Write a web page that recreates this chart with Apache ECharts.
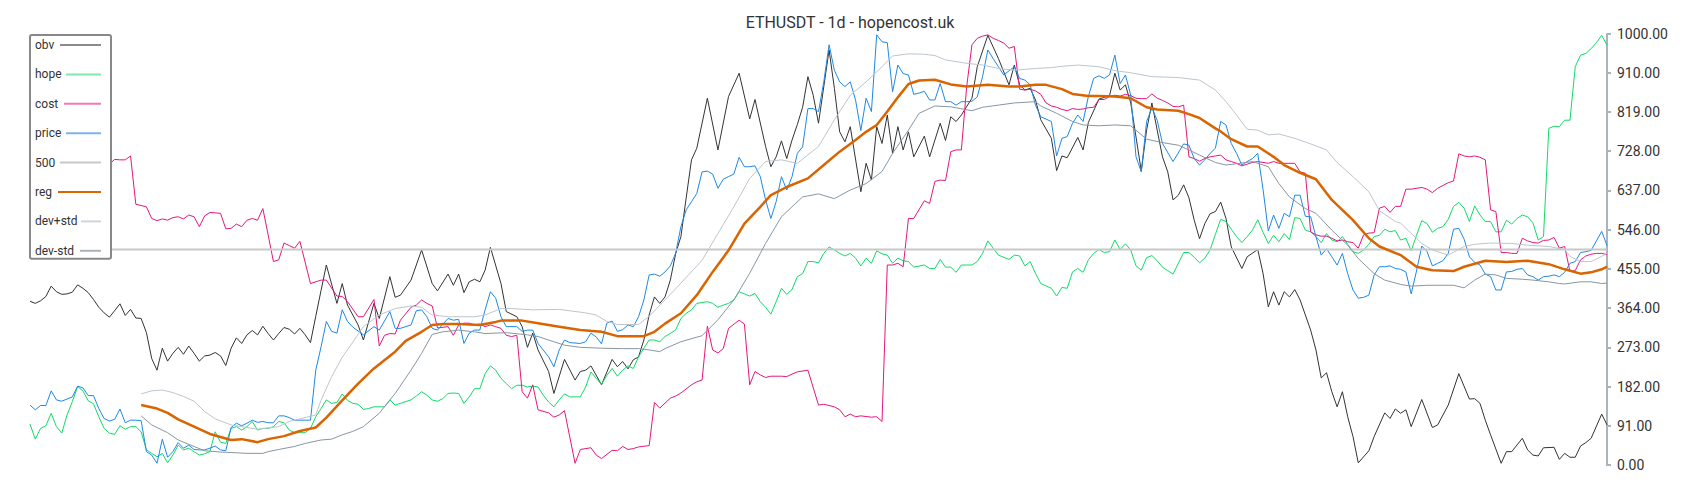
<!DOCTYPE html>
<html>
<head>
<meta charset="utf-8">
<script src="https://cdn.jsdelivr.net/npm/echarts@6/dist/echarts.min.js"></script>
<style>
html,body{margin:0;padding:0;background:#fff;}
#chart{width:1700px;height:500px;}
</style>
</head>
<body>
<div id="chart"></div>
<script>
// ---------- data (x = day index, y = value) ----------
const chartTitle = 'ETHUSDT - 1d - hopencost.uk';
const seriesNames = ['obv', 'hope', 'cost', 'price', '500', 'reg', 'dev+std', 'dev-std'];
const dayCount = 299;
const yMin = 0, yMax = 1000, yStep = 91;

const obv = [[0,380],[1,375],[2,381],[3,391],[4,415],[5,402],[6,396],[7,397],[8,401],[9,418],[10,410],[11,400],[12,384],[13,366],[14,353],[15,343],[16,358],[17,374],[18,347],[19,361],[20,341],[21,340],[22,307],[23,247],[24,220],[25,271],[26,241],[27,259],[28,273],[29,257],[30,276],[31,259],[32,241],[33,253],[34,255],[35,261],[36,253],[37,231],[38,271],[39,295],[40,282],[41,302],[42,312],[43,302],[44,322],[45,305],[46,290],[47,305],[48,319],[49,315],[50,304],[51,317],[52,302],[53,284],[54,345],[55,405],[56,464],[58,375],[59,421],[60,371],[62,325],[63,290],[65,375],[66,340],[68,437],[69,389],[70,394],[72,429],[74,499],[76,421],[77,404],[79,443],[80,417],[81,443],[82,400],[83,425],[84,431],[85,425],[86,452],[87,505],[89,421],[90,356],[92,344],[93,321],[94,273],[95,306],[96,267],[98,217],[99,166],[101,245],[103,197],[104,217],[105,220],[106,230],[108,186],[110,245],[111,228],[112,240],[113,223],[114,244],[115,251],[116,290],[117,348],[118,390],[119,375],[120,390],[121,429],[122,490],[123,530],[124,620],[125,708],[126,735],[128,851],[130,731],[132,855],[134,909],[136,803],[137,848],[139,739],[140,692],[141,715],[142,752],[143,711],[144,754],[145,790],[146,830],[147,901],[148,858],[149,793],[151,963],[152,874],[153,773],[154,750],[155,785],[157,634],[158,700],[159,661],[160,785],[161,746],[162,812],[163,723],[164,785],[165,731],[166,773],[167,715],[169,763],[170,715],[172,793],[173,753],[174,808],[175,797],[176,812],[178,851],[179,924],[181,997],[183,943],[185,882],[186,928],[187,882],[188,870],[189,874],[190,847],[191,801],[193,758],[194,683],[195,717],[196,713],[198,760],[199,731],[200,795],[202,849],[204,857],[205,909],[206,870],[207,882],[208,840],[210,682],[211,777],[212,840],[213,777],[214,715],[215,680],[216,615],[217,626],[218,650],[219,620],[220,568],[221,525],[222,560],[223,583],[224,588],[225,610],[226,572],[227,506],[229,456],[230,483],[232,500],[233,445],[234,367],[235,402],[236,371],[237,402],[238,390],[239,407],[240,383],[242,313],[243,267],[244,202],[245,214],[246,170],[247,135],[248,170],[249,112],[250,66],[251,5],[253,33],[254,66],[256,121],[257,108],[258,130],[259,120],[260,128],[261,89],[263,152],[265,87],[266,93],[268,139],[270,212],[272,153],[273,154],[274,143],[275,104],[276,70],[278,4],[279,31],[280,31],[282,62],[283,35],[284,23],[285,21],[286,40],[288,41],[289,13],[290,27],[291,18],[292,18],[293,44],[294,52],[295,62],[297,118],[298,93]];

const hope = [[0,95],[1,60],[2,85],[3,91],[4,120],[5,89],[6,74],[7,116],[8,147],[9,182],[10,172],[11,149],[12,142],[13,112],[14,85],[15,74],[16,71],[17,91],[18,83],[19,89],[20,89],[21,77],[22,35],[23,27],[24,19],[25,27],[26,5],[27,23],[28,46],[29,35],[30,39],[31,31],[32,23],[33,26],[34,31],[35,77],[36,53],[37,50],[38,85],[39,89],[40,81],[41,89],[42,101],[43,81],[44,85],[45,85],[46,89],[47,101],[48,98],[49,81],[50,75],[51,75],[52,75],[53,85],[54,112],[55,131],[56,151],[57,143],[58,145],[59,165],[60,150],[61,143],[62,141],[63,129],[64,131],[65,135],[67,135],[68,151],[69,139],[70,143],[72,151],[73,160],[74,170],[75,162],[76,151],[77,148],[78,154],[79,166],[80,167],[81,166],[82,143],[83,158],[84,177],[85,177],[86,212],[87,230],[88,220],[89,201],[90,189],[91,177],[92,185],[93,185],[94,181],[95,183],[96,181],[97,162],[98,146],[99,135],[100,151],[101,165],[102,158],[104,158],[105,181],[106,216],[107,201],[108,187],[109,208],[110,224],[111,206],[112,220],[113,230],[114,224],[115,251],[116,271],[117,290],[118,290],[119,286],[120,298],[122,313],[123,340],[124,352],[125,360],[126,375],[128,379],[129,375],[130,366],[131,371],[132,375],[133,383],[134,402],[135,397],[136,392],[137,398],[138,379],[139,366],[140,350],[141,379],[142,410],[143,396],[144,407],[145,437],[146,444],[147,472],[148,472],[149,469],[150,491],[151,506],[152,499],[153,491],[154,485],[155,491],[156,480],[157,462],[158,480],[159,468],[160,497],[161,490],[162,487],[163,468],[164,480],[165,474],[166,472],[167,459],[169,464],[170,456],[171,456],[172,477],[173,459],[174,459],[175,447],[176,464],[177,464],[178,464],[179,472],[180,491],[181,520],[182,503],[183,487],[185,477],[186,487],[187,485],[188,462],[189,472],[190,445],[191,421],[193,410],[194,392],[195,412],[196,410],[197,448],[198,456],[199,447],[200,476],[201,491],[202,500],[203,493],[204,495],[205,522],[206,500],[207,513],[208,499],[209,462],[210,452],[211,481],[212,486],[213,474],[214,459],[215,451],[216,443],[217,468],[218,493],[219,493],[220,482],[221,469],[222,480],[223,499],[224,535],[225,570],[226,565],[227,547],[228,530],[229,516],[230,530],[231,545],[232,569],[233,540],[234,514],[235,533],[236,518],[237,537],[238,523],[239,574],[240,572],[241,545],[242,541],[243,530],[244,516],[245,537],[246,522],[247,518],[248,530],[249,512],[250,495],[251,491],[252,499],[253,512],[254,530],[255,533],[256,547],[257,541],[258,544],[259,522],[260,526],[261,497],[262,533],[263,567],[264,560],[265,540],[266,549],[267,553],[268,570],[269,600],[270,609],[271,596],[272,565],[273,601],[274,580],[275,565],[276,565],[277,541],[278,541],[279,568],[280,559],[281,572],[282,580],[283,576],[284,562],[285,522],[286,530],[287,781],[288,786],[289,785],[290,800],[291,800],[292,924],[293,951],[294,955],[295,966],[296,980],[297,997],[298,974]];

const cost = [[15,698],[16,709],[17,708],[18,708],[19,717],[20,605],[21,602],[22,599],[23,572],[24,567],[25,571],[26,568],[27,574],[28,576],[29,571],[30,580],[31,576],[32,553],[33,578],[34,586],[35,585],[36,584],[37,548],[38,549],[39,559],[40,553],[41,568],[42,572],[43,568],[44,595],[45,534],[46,472],[47,476],[48,515],[49,509],[50,503],[51,519],[53,421],[55,429],[56,429],[58,392],[59,391],[60,379],[62,344],[63,344],[65,384],[66,276],[67,301],[68,305],[69,304],[70,336],[72,366],[73,371],[74,383],[75,375],[76,369],[77,318],[79,321],[80,301],[81,325],[82,329],[83,329],[84,325],[85,327],[86,321],[87,325],[88,321],[89,317],[90,301],[91,298],[92,301],[93,170],[94,155],[95,186],[96,128],[98,121],[99,111],[100,116],[101,126],[103,4],[104,36],[106,40],[107,23],[108,15],[110,34],[111,33],[112,43],[113,36],[114,38],[115,42],[117,45],[118,145],[119,132],[121,155],[122,160],[123,167],[125,186],[126,193],[127,197],[128,322],[129,267],[130,260],[131,270],[132,317],[134,336],[135,327],[136,186],[137,217],[138,209],[139,203],[140,206],[142,206],[143,205],[144,211],[145,216],[147,220],[149,139],[150,141],[152,135],[153,128],[154,112],[155,118],[156,112],[157,114],[159,111],[160,112],[161,101],[162,464],[163,464],[164,468],[165,460],[166,572],[167,572],[169,613],[170,607],[171,658],[172,661],[173,660],[174,727],[175,731],[176,731],[177,878],[178,975],[179,990],[180,995],[181,998],[182,990],[183,985],[184,979],[185,967],[186,971],[187,872],[188,870],[189,872],[190,868],[191,860],[192,840],[193,833],[194,830],[195,825],[196,822],[197,827],[198,825],[199,826],[200,829],[201,830],[202,848],[203,848],[204,855],[205,858],[206,856],[207,860],[208,857],[209,851],[210,850],[211,850],[212,861],[213,851],[214,846],[215,840],[216,832],[217,831],[218,835],[219,715],[220,711],[221,705],[222,711],[223,715],[224,717],[225,719],[226,708],[227,704],[228,700],[229,694],[230,698],[231,702],[232,704],[234,700],[235,704],[236,700],[237,700],[239,700],[240,680],[241,677],[242,541],[243,534],[244,531],[245,531],[246,526],[247,520],[248,522],[249,518],[250,516],[251,503],[252,534],[253,538],[254,539],[255,596],[256,600],[257,586],[258,600],[259,600],[260,640],[261,640],[263,644],[264,640],[265,632],[266,642],[268,655],[269,659],[270,722],[271,717],[272,715],[273,717],[274,714],[275,708],[276,592],[277,588],[278,493],[279,493],[280,491],[281,491],[282,526],[283,520],[284,516],[285,515],[286,521],[287,522],[288,528],[289,503],[290,507],[291,449],[292,451],[293,476],[294,485],[295,489],[296,491],[297,491],[298,488]];

const price = [[0,139],[1,128],[2,138],[3,138],[4,172],[5,151],[6,148],[7,153],[8,158],[9,183],[10,179],[11,161],[12,161],[13,131],[14,108],[15,102],[16,106],[17,130],[18,98],[19,104],[20,104],[21,103],[22,31],[23,23],[24,4],[25,60],[26,18],[27,31],[28,52],[29,39],[30,46],[31,36],[32,35],[33,35],[34,39],[35,44],[36,35],[37,33],[38,87],[39,97],[40,91],[41,97],[42,104],[43,99],[44,101],[45,98],[46,98],[47,114],[48,114],[49,110],[50,104],[51,104],[52,104],[53,104],[54,220],[55,274],[56,333],[57,310],[58,306],[59,360],[60,333],[61,320],[63,302],[65,321],[66,313],[68,356],[69,317],[70,317],[72,325],[73,358],[74,360],[75,344],[76,317],[77,313],[79,340],[80,336],[81,338],[82,282],[83,306],[84,313],[85,313],[86,360],[87,402],[88,387],[89,344],[90,321],[92,321],[93,310],[94,313],[95,313],[96,282],[98,251],[99,228],[100,267],[101,290],[102,284],[104,282],[105,286],[106,306],[107,297],[108,281],[109,329],[110,334],[111,310],[112,314],[113,325],[114,321],[115,344],[116,383],[117,441],[118,443],[119,438],[120,448],[121,462],[122,491],[123,553],[124,592],[125,611],[126,630],[127,680],[128,682],[129,675],[130,642],[131,663],[132,669],[133,675],[134,714],[135,692],[136,692],[137,694],[138,669],[139,615],[140,572],[141,611],[142,669],[143,638],[144,669],[145,723],[146,738],[147,827],[148,827],[149,820],[150,889],[151,975],[152,916],[153,889],[154,878],[155,889],[156,847],[157,776],[158,851],[159,820],[160,998],[161,982],[162,980],[163,866],[164,928],[165,908],[166,905],[167,860],[168,863],[169,867],[170,847],[171,847],[172,885],[173,843],[174,843],[175,835],[176,843],[177,843],[178,844],[179,854],[180,901],[181,963],[182,943],[183,924],[184,905],[186,924],[187,897],[188,893],[189,882],[190,835],[191,808],[193,797],[194,717],[195,758],[196,762],[197,793],[198,812],[199,797],[200,855],[201,897],[202,903],[203,897],[204,905],[205,951],[206,885],[207,905],[208,858],[209,715],[210,680],[211,797],[212,828],[213,800],[214,746],[216,704],[218,745],[219,742],[220,711],[221,696],[222,708],[223,723],[224,735],[225,797],[226,789],[227,746],[228,723],[229,696],[230,704],[231,711],[232,723],[233,640],[234,543],[235,580],[236,549],[237,584],[238,576],[239,626],[240,626],[241,577],[242,576],[243,530],[244,487],[245,502],[246,483],[247,464],[248,491],[249,444],[250,406],[251,387],[252,389],[253,394],[254,441],[255,460],[256,460],[257,462],[258,456],[259,454],[260,448],[261,397],[262,450],[263,508],[264,495],[265,462],[266,468],[267,474],[268,491],[269,547],[270,549],[271,524],[272,483],[273,470],[274,464],[275,443],[276,437],[277,406],[278,406],[279,448],[280,449],[281,454],[282,456],[283,441],[284,437],[285,429],[286,437],[287,438],[288,441],[289,437],[290,447],[291,468],[292,472],[293,493],[294,495],[295,498],[296,520],[297,542],[298,509]];

const level500 = [[0,500],[298,500]];

const reg = [[21,139],[24,131],[26,121],[28,106],[31,89],[34,72],[38,58],[40,60],[43,53],[45,60],[48,67],[51,79],[54,87],[56,110],[59,150],[62,189],[65,224],[69,263],[71,288],[74,309],[76,325],[78,327],[81,327],[85,325],[88,332],[89,335],[93,335],[96,329],[100,321],[104,313],[108,309],[111,299],[116,299],[118,309],[120,328],[123,352],[126,394],[129,448],[132,498],[135,560],[138,599],[140,626],[143,645],[147,665],[150,696],[153,727],[156,754],[158,773],[160,789],[162,820],[164,853],[166,884],[168,892],[171,894],[174,883],[177,878],[181,882],[185,878],[187,878],[190,882],[192,882],[195,872],[197,861],[200,856],[202,856],[205,855],[208,851],[211,830],[213,825],[217,822],[219,814],[221,805],[224,781],[225,774],[227,756],[230,739],[232,739],[235,715],[237,696],[240,678],[243,663],[246,615],[250,568],[253,526],[255,507],[259,487],[262,460],[265,452],[269,450],[271,460],[275,474],[279,471],[283,474],[287,466],[290,454],[293,444],[295,447],[297,454],[298,460]];

const devPlus = [[21,165],[23,172],[25,174],[27,168],[29,159],[31,148],[33,124],[35,107],[38,93],[40,89],[43,83],[47,89],[49,101],[52,110],[54,116],[55,150],[57,205],[59,250],[61,285],[63,321],[66,348],[69,363],[72,369],[74,366],[76,348],[79,344],[84,344],[86,348],[89,363],[91,363],[95,360],[100,361],[105,353],[107,348],[109,333],[111,326],[115,326],[117,345],[120,383],[123,422],[127,475],[130,537],[133,599],[136,665],[139,704],[142,708],[145,700],[149,739],[152,801],[155,858],[158,889],[161,924],[163,949],[166,954],[169,953],[171,950],[173,940],[177,932],[180,928],[183,920],[186,916],[190,920],[193,922],[195,925],[198,928],[202,924],[205,915],[208,910],[212,901],[217,899],[221,893],[224,870],[226,843],[228,812],[230,779],[232,777],[234,766],[236,768],[239,758],[242,745],[245,731],[247,702],[250,669],[253,634],[255,590],[258,565],[259,561],[263,514],[265,499],[268,487],[271,507],[273,512],[276,515],[280,514],[283,510],[287,507],[290,500],[291,484],[293,472],[295,472],[297,484],[298,491]];

const devMinus = [[21,114],[23,93],[26,75],[28,58],[31,43],[33,33],[36,30],[38,29],[41,27],[44,27],[45,31],[47,36],[50,43],[52,50],[55,58],[57,60],[59,70],[61,78],[63,89],[66,120],[69,166],[72,220],[74,259],[76,303],[78,309],[81,313],[84,309],[86,305],[90,307],[94,302],[96,298],[99,286],[101,278],[104,273],[108,271],[112,270],[115,270],[117,267],[119,263],[120,270],[123,286],[127,300],[130,337],[133,383],[136,445],[139,514],[142,576],[146,622],[149,629],[152,618],[155,638],[158,653],[161,681],[163,723],[166,777],[168,816],[171,833],[174,831],[178,822],[180,830],[183,835],[186,840],[190,843],[191,833],[194,816],[197,797],[199,789],[202,787],[205,789],[208,787],[211,756],[214,748],[217,742],[219,731],[221,719],[224,702],[226,696],[228,699],[231,704],[234,692],[236,653],[238,622],[241,595],[243,584],[246,545],[249,510],[251,479],[254,444],[256,429],[259,419],[261,415],[264,417],[269,417],[271,411],[273,429],[275,443],[277,441],[279,433],[282,431],[284,429],[287,425],[289,421],[290,420],[293,425],[295,425],[297,421],[298,422]];

// ---------- styling ----------
const lineColors = ['#333333', '#12d968', '#e3177d', '#1e88e5', '#c8c8c8', '#d96400', '#bcc5cd', '#8796a3'];
const lineWidths = [1, 1, 1, 1, 2, 2.5, 1, 1];
const legendIconColors = ['#8c8c8c', '#7fe8ad', '#f07ab5', '#7cb5ec', '#c8c8c8', '#d96400', '#d0d5da', '#aab2ba'];
const legendIconLens = [41, 35, 37, 35, 41, 43, 20, 21];
const legendRowWidth = 66;

const seriesData = [obv, hope, cost, price, level500, reg, devPlus, devMinus];

const rich = {};
seriesNames.forEach((n, i) => {
  rich['t' + i] = { width: legendRowWidth - legendIconLens[i], fontSize: 12, color: '#333', lineHeight: 14, align: 'left', fontFamily: 'Roboto' };
  rich['l' + i] = { width: legendIconLens[i], height: 2, lineHeight: 14, backgroundColor: legendIconColors[i] };
});

const chart = echarts.init(document.getElementById('chart'), null, { renderer: 'svg' });
chart.setOption({
  animation: false,
  backgroundColor: '#fff',
  textStyle: { fontFamily: 'Roboto' },
  title: {
    text: chartTitle,
    left: 'center',
    top: 9,
    textStyle: { fontSize: 16, fontWeight: 'normal', color: '#333', fontFamily: 'Roboto' }
  },
  legend: {
    orient: 'vertical',
    left: 30,
    top: 35,
    itemWidth: 0,
    itemHeight: 14,
    itemGap: 15.4,
    icon: 'rect',
    padding: [3, 10, 1, 0],
    backgroundColor: '#fff',
    borderColor: '#888',
    borderWidth: 2,
    borderRadius: 2,
    data: seriesNames,
    formatter: name => {
      const i = seriesNames.indexOf(name);
      return '{t' + i + '|' + name + '}{l' + i + '| }';
    },
    textStyle: { rich: rich }
  },
  grid: { left: 30, right: 93, top: 34, bottom: 35 },
  xAxis: { type: 'value', min: 0, max: dayCount - 1, show: false },
  yAxis: {
    type: 'value',
    position: 'right',
    min: yMin,
    max: yMax,
    interval: yStep,
    splitLine: { show: false },
    axisLine: { show: true, onZero: false, lineStyle: { color: '#aab4be', width: 2 } },
    axisTick: { show: true, length: 4, lineStyle: { color: '#aab4be', width: 2 } },
    axisLabel: { margin: 10, color: '#333', fontSize: 14, fontFamily: 'Roboto', formatter: v => v.toFixed(2) }
  },
  series: seriesNames.map((n, i) => ({
    name: n,
    type: 'line',
    data: seriesData[i],
    symbol: 'none',
    color: lineColors[i],
    lineStyle: { color: lineColors[i], width: lineWidths[i] },
    z: n === 'reg' ? 3 : 2
  }))
});
</script>
</body>
</html>
